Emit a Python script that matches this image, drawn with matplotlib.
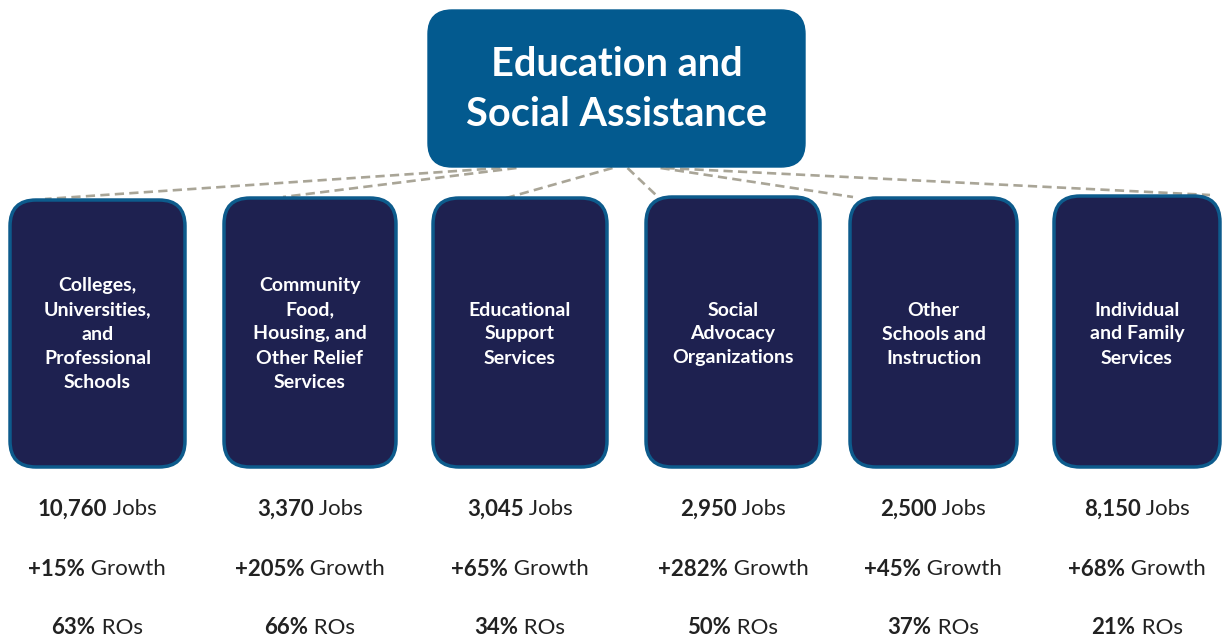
import matplotlib.pyplot as plt
from matplotlib.patches import FancyBboxPatch

plt.rcParams['font.family'] = ['Lato', 'DejaVu Sans']

title = 'Education and\nSocial Assistance'
categories = [
    'Colleges,\nUniversities,\nand\nProfessional\nSchools',
    'Community\nFood,\nHousing, and\nOther Relief\nServices',
    'Educational\nSupport\nServices',
    'Social\nAdvocacy\nOrganizations',
    'Other\nSchools and\nInstruction',
    'Individual\nand Family\nServices',
]
jobs = ['10,760', '3,370', '3,045', '2,950', '2,500', '8,150']
growth = ['+15%', '+205%', '+65%', '+282%', '+45%', '+68%']
ros = ['63%', '66%', '34%', '50%', '37%', '21%']

# layout in pixel coordinates
W, H = 1222, 640
box_left = [10, 224, 433, 646, 850, 1054]
box_right = [185, 396, 607, 820, 1017, 1220]
box_top = [200, 198, 198, 197, 198, 196]
box_bottom = 467
stat_x = [97, 310, 520, 733, 933, 1137]
parent = (428, 10, 805, 167)

# connector start offsets (from parent centre) and end points on child tops
start_dx = [-116, -100, -4, 11, 44, 49]
end_dx = [35, 59, 52, 11, 3, 156]
end_y = [199, 197, 204, 196, 197, 195]

fig = plt.figure(figsize=(12.22, 6.4), dpi=100)
ax = fig.add_axes([0, 0, 1, 1])
ax.set_xlim(0, W)
ax.set_ylim(H, 0)
ax.axis('off')

pcx = (parent[0] + parent[2]) / 2
for i in range(len(categories)):
    ax.plot([pcx + start_dx[i], box_left[i] + end_dx[i]],
            [parent[3] + 1, end_y[i]],
            color='#a9a597', lw=1.9, ls=(0, (3.5, 2)), zorder=1)

# parent box
ax.add_patch(FancyBboxPatch((parent[0], parent[1]), parent[2] - parent[0],
                            parent[3] - parent[1],
                            boxstyle='round,pad=0,rounding_size=24',
                            fc='#035a8f', ec='#035a8f', lw=1, zorder=3))
ax.text(pcx, (parent[1] + parent[3]) / 2 + 1, title, color='white',
        fontsize=28.5, fontweight='bold', ha='center', va='center',
        linespacing=1.45, zorder=4)

# child boxes
for i, name in enumerate(categories):
    ax.add_patch(FancyBboxPatch((box_left[i], box_top[i]),
                                box_right[i] - box_left[i],
                                box_bottom - box_top[i],
                                boxstyle='round,pad=0,rounding_size=26',
                                fc='#1e2150', ec='#0d5b8c', lw=2.5, zorder=3))
    ax.text((box_left[i] + box_right[i]) / 2, 334, name, color='white',
            fontsize=14, fontweight='bold', ha='center', va='center',
            linespacing=1.5, zorder=4)

# stats: bold value + normal suffix, centred as one line
fig.canvas.draw()
renderer = fig.canvas.get_renderer()


def two_part(x, y, bold, normal):
    t1 = ax.text(0, y, bold, fontsize=16, fontweight='bold', color='#222222',
                 ha='left', va='center')
    t2 = ax.text(0, y, normal, fontsize=16, color='#222222',
                 ha='left', va='center')
    inv = ax.transData.inverted()
    b1 = t1.get_window_extent(renderer)
    b2 = t2.get_window_extent(renderer)
    w1 = inv.transform((b1.x1, 0))[0] - inv.transform((b1.x0, 0))[0]
    w2 = inv.transform((b2.x1, 0))[0] - inv.transform((b2.x0, 0))[0]
    x0 = x - (w1 + w2) / 2
    t1.set_x(x0)
    t2.set_x(x0 + w1)


for i in range(len(categories)):
    two_part(stat_x[i], 509, jobs[i], ' Jobs')
    two_part(stat_x[i], 569, growth[i], ' Growth')
    two_part(stat_x[i], 628, ros[i], ' ROs')

fig.savefig('out.png', dpi=100, facecolor='white')
